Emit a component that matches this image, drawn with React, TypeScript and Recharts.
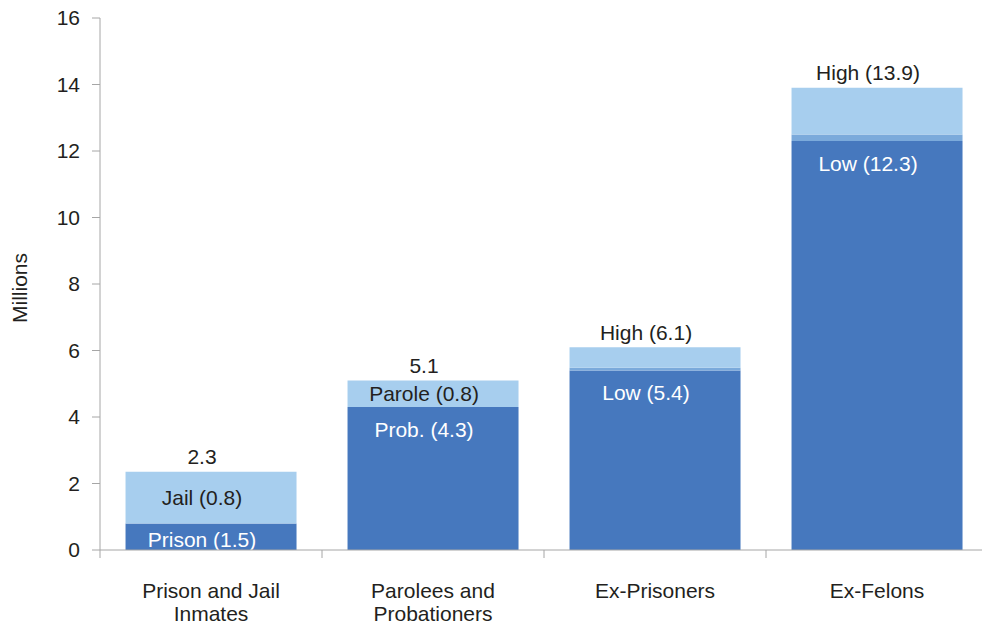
import React from 'react';
import { BarChart, Bar, XAxis, YAxis, Rectangle } from 'recharts';

const categories = ['Prison and Jail|Inmates', 'Parolees and|Probationers', 'Ex-Prisoners', 'Ex-Felons'];
const lowValues = [0.8, 4.3, 5.4, 12.3];
const bandValues = [0, 0, 0.08, 0.2];
const highValues = [1.55, 0.8, 0.62, 1.4];
const lowLabels = ['Prison (1.5)', 'Prob. (4.3)', 'Low (5.4)', 'Low (12.3)'];
const highLabels = ['Jail (0.8)', 'Parole (0.8)', '', ''];
const totalLabels = ['2.3', '5.1', 'High (6.1)', 'High (13.9)'];
const yTicks = [0, 2, 4, 6, 8, 10, 12, 14, 16];

const data = categories.map((name, i) => ({
  name,
  low: lowValues[i],
  band: bandValues[i],
  high: highValues[i],
}));

const FONT = '"Liberation Sans", Arial, sans-serif';
const FS = 21;
const DARK = '#4678BE';
const BAND = '#7BAADB';
const LIGHT = '#A7CEEE';
const AXIS = '#A6A6A6';
const TEXT = '#231F20';
const TX = -9;

const LowShape = (props: any) => {
  const { x, y, width, height, index, fill } = props;
  const ty = height < 50 ? y + height / 2 + 3 : y + 22;
  return (
    <g>
      <Rectangle x={x} y={y} width={width} height={height} fill={fill} />
      <text x={x + width / 2 + TX} y={ty} textAnchor="middle" dominantBaseline="central"
        fill="#fff" fontSize={FS} fontFamily={FONT}>{lowLabels[index]}</text>
    </g>
  );
};

const HighShape = (props: any) => {
  const { x, y, width, height, index, fill } = props;
  return (
    <g>
      <Rectangle x={x} y={y} width={width} height={height} fill={fill} />
      {highLabels[index] && (
        <text x={x + width / 2 + TX} y={y + height / 2} textAnchor="middle" dominantBaseline="central"
          fill={TEXT} fontSize={FS} fontFamily={FONT}>{highLabels[index]}</text>
      )}
      <text x={x + width / 2 + TX} y={y - 15} textAnchor="middle" dominantBaseline="central"
        fill={TEXT} fontSize={FS} fontFamily={FONT}>{totalLabels[index]}</text>
    </g>
  );
};

const CategoryTick = (props: any) => {
  const { x, y, payload, index } = props;
  const half = payload?.offset || 111;
  const lines = String(payload.value).split('|');
  return (
    <g>
      <line x1={x - half} y1={y - 8} x2={x - half} y2={y} stroke={AXIS} />
      {index === categories.length - 1 && (
        <line x1={x + half} y1={y - 8} x2={x + half} y2={y} stroke={AXIS} />
      )}
      {lines.map((l, i) => (
        <text key={i} x={x} y={y + 32 + i * 23} textAnchor="middle" dominantBaseline="central"
          fill={TEXT} fontSize={FS} fontFamily={FONT}>{l}</text>
      ))}
    </g>
  );
};

export default function App() {
  return (
    <div style={{ position: 'absolute', left: 0, top: 0, width: 982, height: 623, overflow: 'hidden', background: '#fff' }}>
      <BarChart width={990} height={623} data={data} barCategoryGap="11.5%"
        margin={{ top: 18, right: 2, bottom: 0, left: 0 }}>
        <XAxis dataKey="name" height={73} axisLine={{ stroke: AXIS }} tickLine={false}
          tick={<CategoryTick />} interval={0} />
        <YAxis width={100} domain={[0, 16]} ticks={yTicks} axisLine={{ stroke: AXIS }}
          tickLine={{ stroke: AXIS }} tickSize={8} tickMargin={12}
          tick={{ fill: TEXT, fontSize: FS, fontFamily: FONT }}
          label={{
            content: () => (
              <text x={19} y={288} transform="rotate(-90 19 288)" textAnchor="middle"
                dominantBaseline="central" fill={TEXT} fontSize={FS} fontFamily={FONT}>Millions</text>
            ),
          }} />
        <Bar dataKey="low" stackId="a" fill={DARK} shape={<LowShape />} isAnimationActive={false} />
        <Bar dataKey="band" stackId="a" fill={BAND} isAnimationActive={false} />
        <Bar dataKey="high" stackId="a" fill={LIGHT} shape={<HighShape />} isAnimationActive={false} />
      </BarChart>
    </div>
  );
}
